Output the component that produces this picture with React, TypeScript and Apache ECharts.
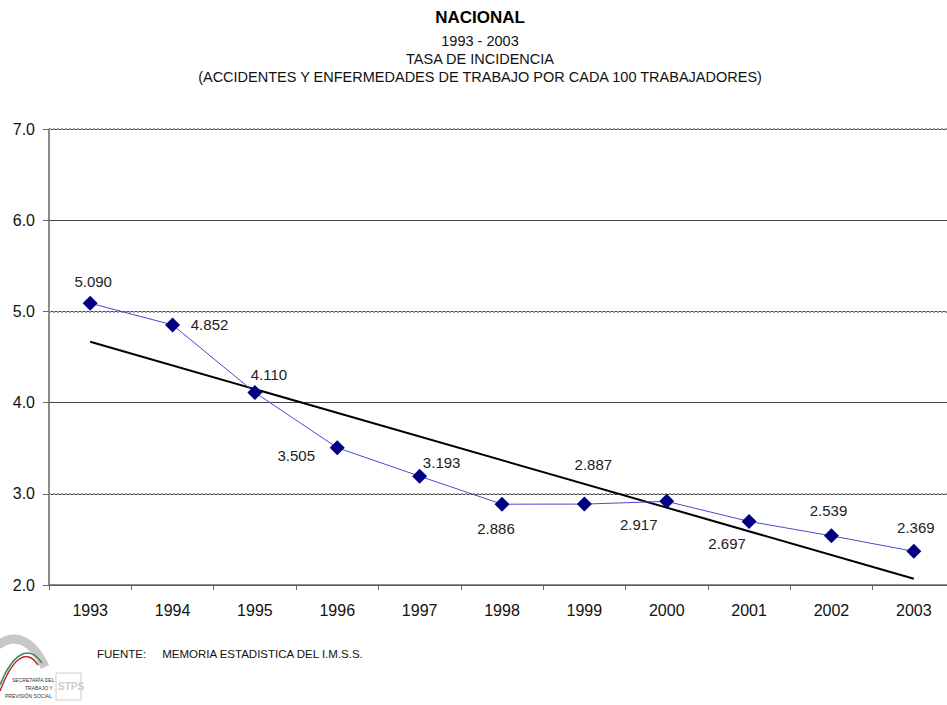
import React, { useEffect, useRef } from "react";
import * as echarts from "echarts";

const years = ["1993", "1994", "1995", "1996", "1997", "1998", "1999", "2000", "2001", "2002", "2003"];
const tasa = [5.09, 4.852, 4.11, 3.505, 3.193, 2.886, 2.887, 2.917, 2.697, 2.539, 2.369];
const tendencia = [4.667, null, null, null, null, null, null, null, null, null, 2.069];
const labelOffsets: number[][] = [
  [3, -22], [37, 0], [14, -18], [-41, 8], [22, -14], [-6, 24], [9, -40], [-28, 23], [-22, 22], [-3, -25], [2, -24],
];
const yTicks = [2, 3, 4, 5, 6, 7];
const emphasizedLines = [7, 5, 3];

const FONT = "'Liberation Sans', Arial, sans-serif";

export default function App() {
  const ref = useRef<HTMLDivElement>(null);
  useEffect(() => {
    if (!ref.current) return;
    const chart = echarts.init(ref.current, null, { renderer: "svg" });
    chart.setOption({
      animation: false,
      backgroundColor: "#ffffff",
      textStyle: { fontFamily: FONT },
      title: [
        { text: "NACIONAL", left: 475, textAlign: "center", top: 4, textStyle: { fontFamily: FONT, fontSize: 17, fontWeight: "bold", color: "#000" } },
        {
          text: "1993 - 2003\nTASA DE INCIDENCIA\n(ACCIDENTES Y ENFERMEDADES DE TRABAJO POR CADA 100 TRABAJADORES)",
          left: 475,
          textAlign: "center",
          top: 27,
          textStyle: { fontFamily: FONT, fontSize: 14.5, fontWeight: "normal", color: "#111", lineHeight: 18 },
        },
      ],
      grid: { left: 49, right: 0, top: 129, bottom: 120, containLabel: false },
      xAxis: {
        type: "category",
        data: years,
        boundaryGap: true,
        axisLine: { lineStyle: { color: "#666", width: 1.5 } },
        axisTick: { show: true, length: 5, lineStyle: { color: "#666" } },
        axisLabel: { color: "#111", fontSize: 16, fontFamily: FONT, margin: 17 },
        splitLine: { show: false },
      },
      yAxis: {
        type: "value",
        min: yTicks[0],
        max: yTicks[yTicks.length - 1],
        interval: 1,
        axisLine: { show: true, lineStyle: { color: "#666", width: 1.5 } },
        axisTick: { show: true, length: 6, lineStyle: { color: "#666" } },
        axisLabel: { color: "#111", fontSize: 16, fontFamily: FONT, margin: 14, formatter: (v: number) => v.toFixed(1) },
        splitLine: { show: true, lineStyle: { color: "#444", width: 1 } },
      },
      series: [
        {
          type: "line",
          data: tasa,
          symbol: "diamond",
          symbolSize: 15,
          itemStyle: { color: "#000080" },
          lineStyle: { color: "#4a4ad0", width: 1 },
          z: 3,
          label: {
            show: true,
            position: "inside",
            align: "center",
            verticalAlign: "middle",
            fontSize: 15,
            fontFamily: FONT,
            color: "#222",
            formatter: (p: any) => p.value.toFixed(3),
          },
          labelLayout: (p: any) => {
            const o = labelOffsets[p.dataIndex];
            return { x: p.rect.x + p.rect.width / 2 + o[0], y: p.rect.y + p.rect.height / 2 + o[1], align: "center", verticalAlign: "middle" };
          },
          markLine: {
            silent: true,
            symbol: "none",
            label: { show: false },
            lineStyle: { color: "#9a9a9a", type: "dotted", width: 2 },
            data: emphasizedLines.map((v) => ({ yAxis: v })),
            z: 1,
          },
        },
        {
          type: "line",
          data: tendencia,
          connectNulls: true,
          symbol: "none",
          lineStyle: { color: "#000", width: 2 },
          z: 2,
        },
      ],
      graphic: [
        {
          type: "text",
          left: 97,
          top: 648,
          style: { text: "FUENTE:     MEMORIA ESTADISTICA DEL I.M.S.S.", fontSize: 11.5, fontFamily: FONT, fill: "#111" },
        },
        {
          type: "group",
          x: 0,
          y: 625,
          children: [
            { type: "bezierCurve", shape: { x1: -2, y1: 20, cpx1: 15, cpy1: 8, cpx2: 32, cpy2: 14, x2: 45, y2: 42 }, style: { stroke: "#c8c8c8", lineWidth: 9, fill: null } },
            { type: "bezierCurve", shape: { x1: 0, y1: 60, cpx1: 12, cpy1: 30, cpx2: 28, cpy2: 18, x2: 42, y2: 38 }, style: { stroke: "#3a8a5a", lineWidth: 1.5, fill: null } },
            { type: "bezierCurve", shape: { x1: 0, y1: 66, cpx1: 12, cpy1: 34, cpx2: 26, cpy2: 22, x2: 38, y2: 40 }, style: { stroke: "#c02020", lineWidth: 1.5, fill: null } },
            { type: "text", x: 12, y: 52, style: { text: "SECRETARÍA DEL", fontSize: 5, fill: "#333", fontFamily: FONT } },
            { type: "text", x: 25, y: 60, style: { text: "TRABAJO Y", fontSize: 5, fill: "#333", fontFamily: FONT } },
            { type: "text", x: 5, y: 68, style: { text: "PREVISIÓN SOCIAL", fontSize: 5, fill: "#333", fontFamily: FONT } },
            { type: "rect", shape: { x: 56, y: 48, width: 25, height: 27 }, style: { fill: "none", stroke: "#ccc", lineWidth: 1 } },
            { type: "text", x: 58, y: 56, style: { text: "STPS", fontSize: 10, fontWeight: "bold", fill: "#ccc", fontFamily: FONT } },
          ],
        },
      ],
    });
    return () => chart.dispose();
  }, []);
  return (
    <div style={{ position: "fixed", left: 0, top: 0, width: 947, height: 705, overflow: "hidden" }}>
      <div ref={ref} style={{ width: 955, height: 705 }} />
    </div>
  );
}
